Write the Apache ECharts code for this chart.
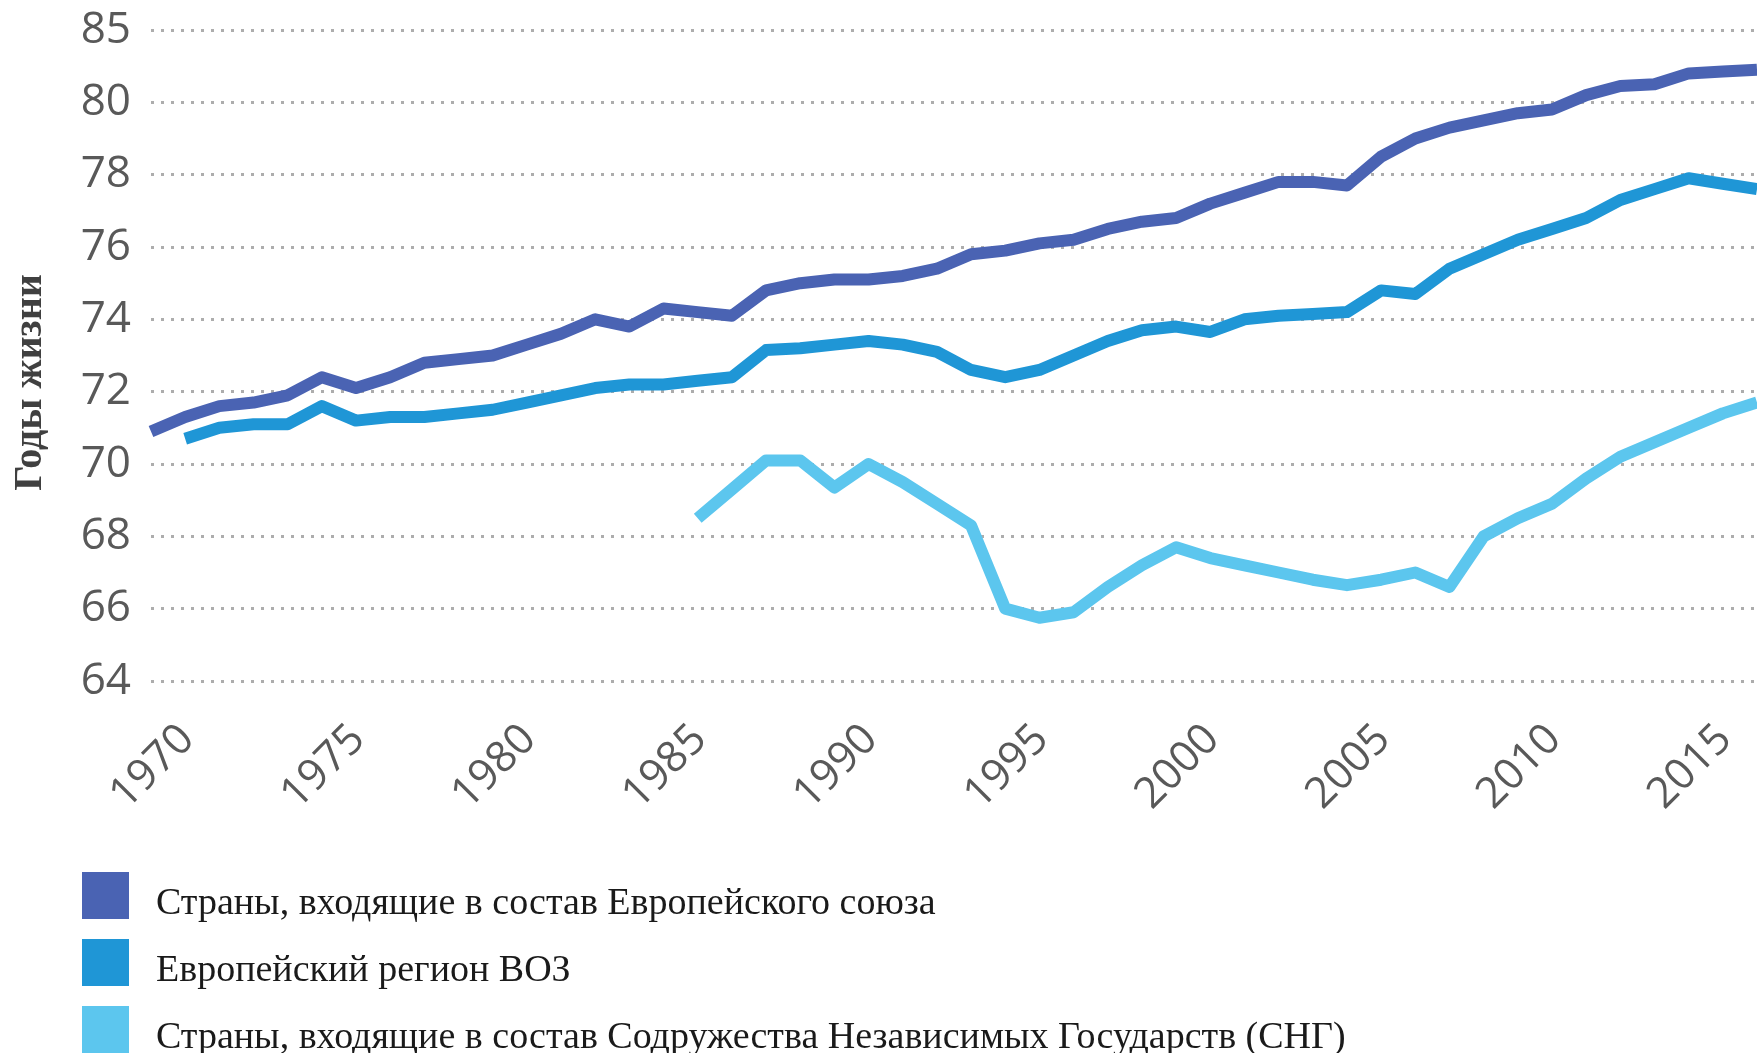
<!DOCTYPE html>
<html>
<head>
<meta charset="utf-8">
<title>Ожидаемая продолжительность жизни</title>
<script src="https://cdn.jsdelivr.net/npm/echarts@6/dist/echarts.min.js"></script>
<style>
  html, body { margin: 0; padding: 0; background: #ffffff; }
  #chart { width: 1757px; height: 1053px; }
</style>
</head>
<body>
<div id="chart"></div>
<script>
// годы 1970..2017
const years = []
for (let y = 1970; y <= 2017; y++) years.push(y)

const seriesNames = [
  'Страны, входящие в состав Европейского союза',
  'Европейский регион ВОЗ',
  'Страны, входящие в состав Содружества Независимых Государств (СНГ)'
]

const euValues = [70.9, 71.3, 71.6, 71.7, 71.9, 72.4, 72.1, 72.4, 72.8, 72.9,
  73.0, 73.3, 73.6, 74.0, 73.8, 74.3, 74.2, 74.1, 74.8, 75.0,
  75.1, 75.1, 75.2, 75.4, 75.8, 75.9, 76.1, 76.2, 76.5, 76.7,
  76.8, 77.2, 77.5, 77.8, 77.8, 77.7, 78.5, 79.0, 79.3, 79.5,
  79.7, 79.8, 80.2, 80.45, 80.5, 80.8, 80.85, 80.9]

const whoValues = [null, 70.7, 71.0, 71.1, 71.1, 71.6, 71.2, 71.3, 71.3, 71.4,
  71.5, 71.7, 71.9, 72.1, 72.2, 72.2, 72.3, 72.4, 73.15, 73.2,
  73.3, 73.4, 73.3, 73.1, 72.6, 72.4, 72.6, 73.0, 73.4, 73.7,
  73.8, 73.65, 74.0, 74.1, 74.15, 74.2, 74.8, 74.7, 75.4, 75.8,
  76.2, 76.5, 76.8, 77.3, 77.6, 77.9, 77.75, 77.6]

const cisValues = [null, null, null, null, null, null, null, null, null, null,
  null, null, null, null, null, null, 68.5, 69.3, 70.1, 70.1,
  69.35, 70.0, 69.5, 68.9, 68.3, 66.0, 65.75, 65.9, 66.6, 67.2,
  67.7, 67.4, 67.2, 67.0, 66.8, 66.65, 66.8, 67.0, 66.6, 68.0,
  68.5, 68.9, 69.6, 70.2, 70.6, 71.0, 71.4, 71.7]

// верхняя линия сетки подписана «85», хотя стоит на шаге 82
const yTickLabels = { 64: '64', 66: '66', 68: '68', 70: '70', 72: '72', 74: '74', 76: '76', 78: '78', 80: '80', 82: '85' }

const colors = ['#4a63b3', '#1f96d6', '#5cc6ee']

function pairs(values) {
  return years.map(function (y, i) { return [y, values[i]] })
}

const chart = echarts.init(document.getElementById('chart'))

const option = {
  animation: false,
  backgroundColor: '#ffffff',
  grid: {
    left: 151,
    right: 0,
    top: 30,
    bottom: 372
  },
  legend: {
    orient: 'vertical',
    left: 82,
    top: 872,
    height: 240,
    padding: 0,
    // квадрат в верхней части значка, чтобы подпись сидела чуть ниже его центра
    icon: 'path://M0,0L47,0L47,47L0,47Z M0,65L0.1,65',
    itemWidth: 47,
    itemHeight: 65,
    itemGap: 2,
    itemStyle: { borderWidth: 0 },
    textStyle: {
      fontFamily: 'Liberation Serif',
      fontSize: 38,
      color: '#1a1a1a',
      padding: [0, 0, 0, 22]
    },
    data: seriesNames
  },
  xAxis: {
    type: 'value',
    min: 1970,
    max: 2017,
    interval: 5,
    axisLine: { show: false },
    axisTick: { show: false },
    splitLine: { show: false },
    axisLabel: {
      rotate: 45,
      align: 'right',
      verticalAlign: 'top',
      padding: [30, 0, 0, 0],
      margin: 15,
      showMaxLabel: false,
      fontFamily: 'Open Sans',
      fontSize: 43,
      color: '#595959',
      formatter: function (v) { return String(v) }
    }
  },
  yAxis: {
    type: 'value',
    min: 64,
    max: 82,
    interval: 2,
    name: 'Годы жизни',
    nameLocation: 'middle',
    nameRotate: 90,
    nameGap: 100,
    nameTextStyle: {
      fontFamily: 'Liberation Serif',
      fontWeight: 'bold',
      fontSize: 40,
      color: '#404040',
      padding: [0, 54, 0, 0]
    },
    axisLine: { show: false },
    axisTick: { show: false },
    axisLabel: {
      margin: 20,
      fontFamily: 'Open Sans',
      fontSize: 44,
      color: '#595959',
      formatter: function (v) { return yTickLabels[v] }
    },
    splitLine: {
      show: true,
      lineStyle: { color: '#adadad', width: 3, type: [3, 7] }
    }
  },
  series: [
    {
      name: seriesNames[0],
      type: 'line',
      data: pairs(euValues),
      symbol: 'none',
      itemStyle: { color: colors[0] },
      lineStyle: { color: colors[0], width: 12, join: 'round' }
    },
    {
      name: seriesNames[1],
      type: 'line',
      data: pairs(whoValues),
      symbol: 'none',
      itemStyle: { color: colors[1] },
      lineStyle: { color: colors[1], width: 12, join: 'round' }
    },
    {
      name: seriesNames[2],
      type: 'line',
      data: pairs(cisValues),
      symbol: 'none',
      itemStyle: { color: colors[2] },
      lineStyle: { color: colors[2], width: 12, join: 'round' }
    }
  ]
}

chart.setOption(option)
window.addEventListener('resize', function () {
  chart.resize()
})
</script>
</body>
</html>
